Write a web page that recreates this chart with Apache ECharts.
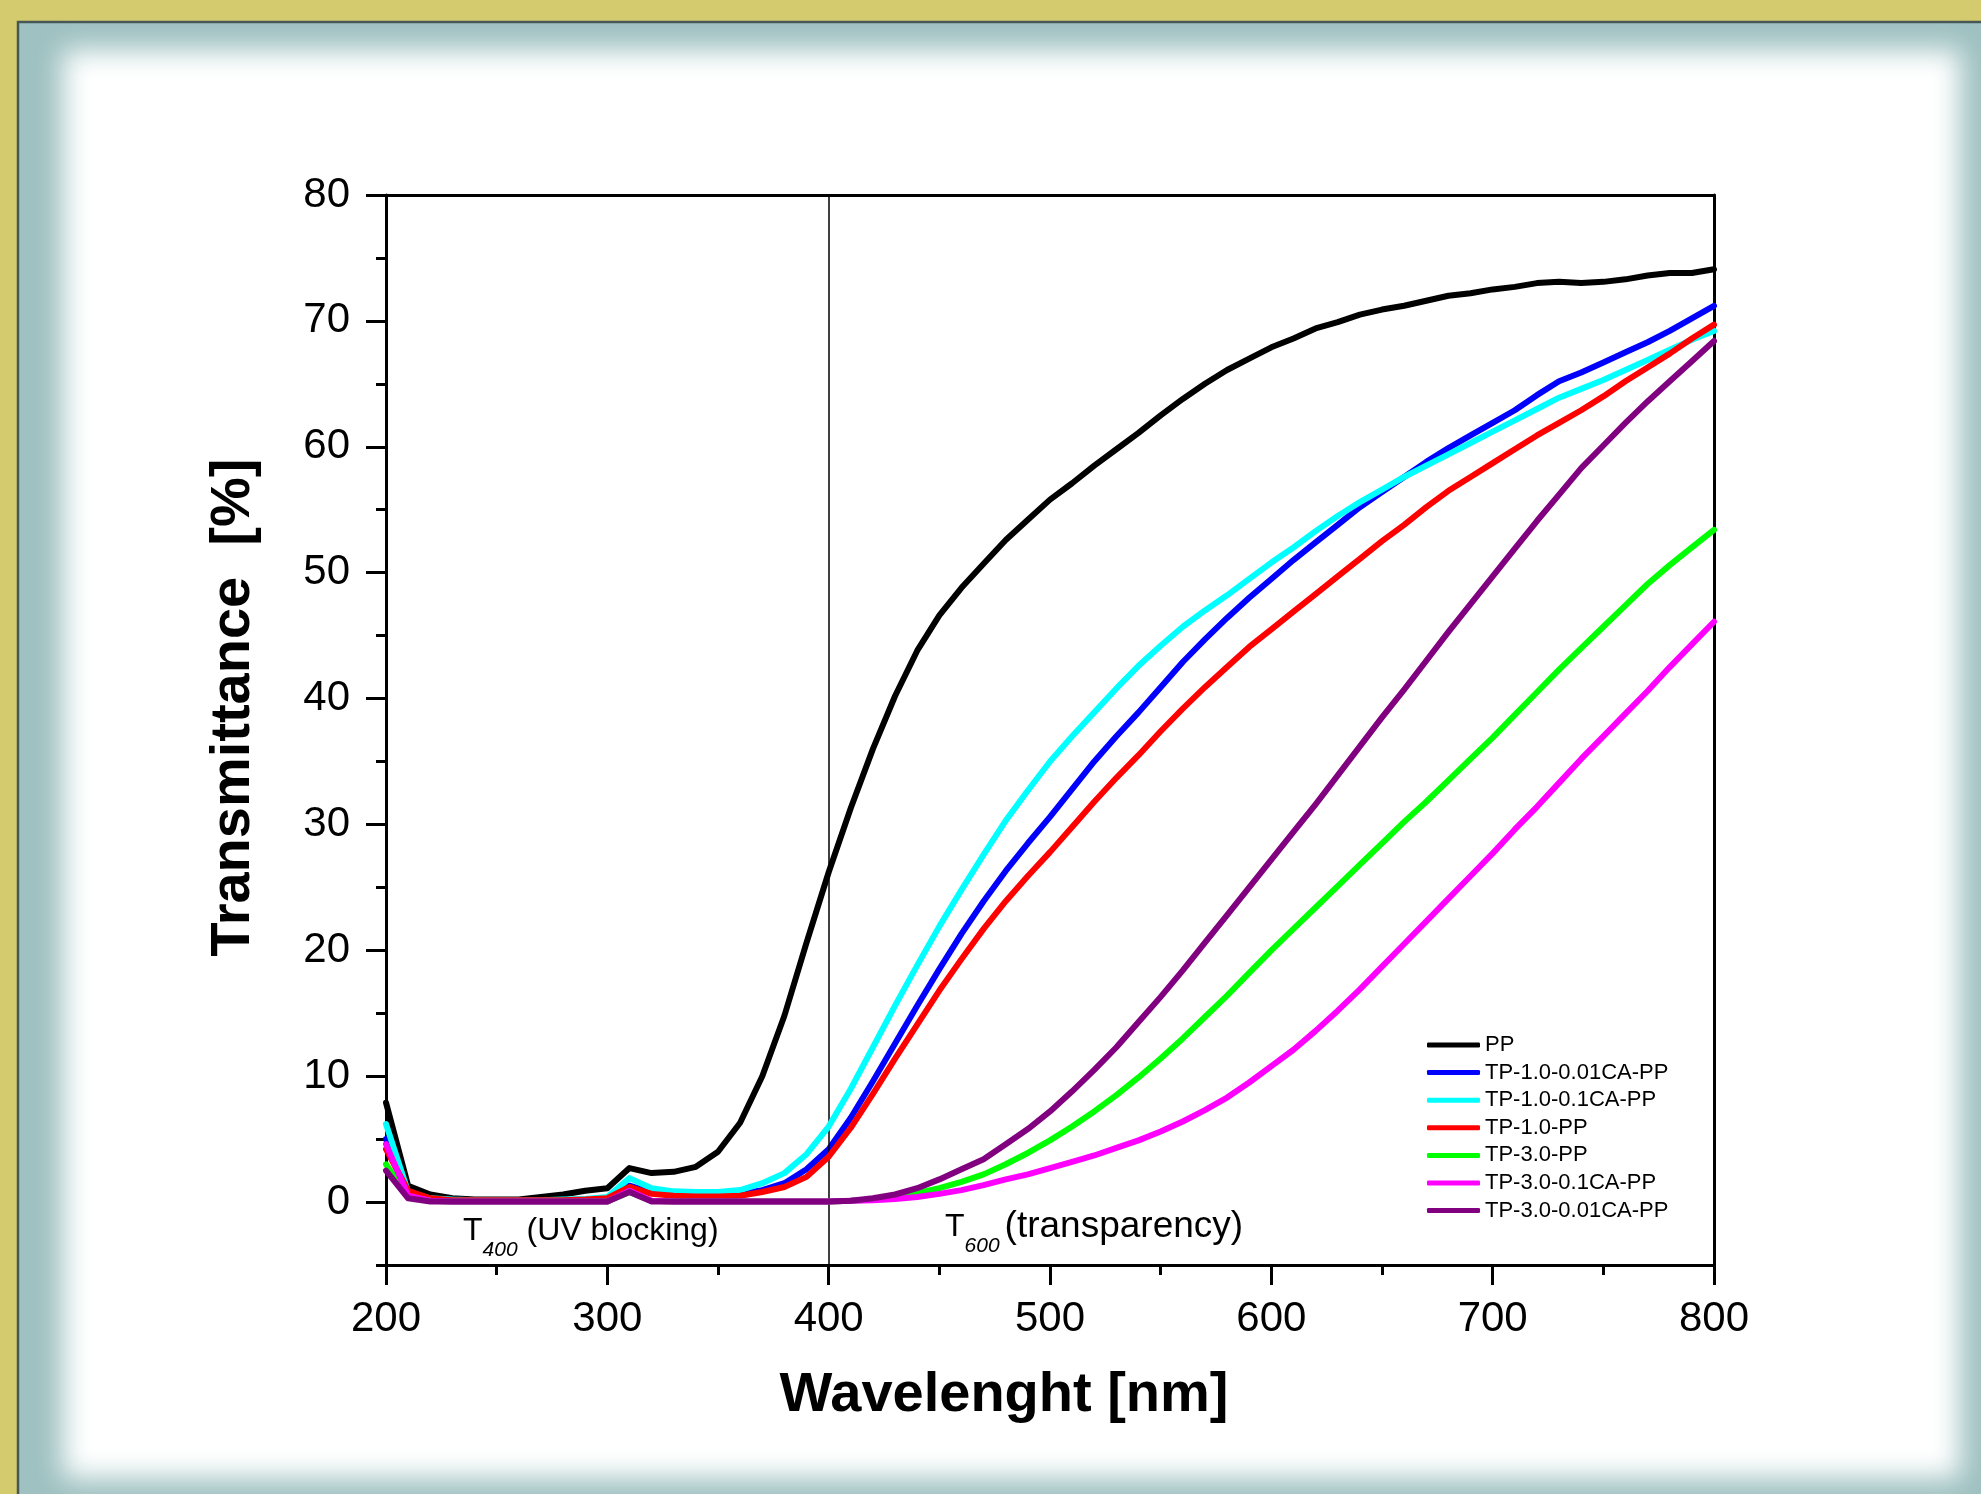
<!DOCTYPE html>
<html>
<head>
<meta charset="utf-8">
<script src="https://cdn.jsdelivr.net/npm/echarts@6/dist/echarts.min.js"></script>
<style>
html,body{margin:0;padding:0;background:#d3cb6d;overflow:hidden;}
#c{width:1981px;height:1494px;}
</style>
</head>
<body>
<div id="c"></div>
<script>
// ---------------- DATA ----------------
const wavelengths = [200,210,220,230,240,250,260,270,280,290,
  300,310,320,330,340,350,360,370,380,390,
  400,410,420,430,440,450,460,470,480,490,
  500,510,520,530,540,550,560,570,580,590,
  600,610,620,630,640,650,660,670,680,690,
  700,710,720,730,740,750,760,770,780,790,800];

const seriesNames = ['PP','TP-1.0-0.01CA-PP','TP-1.0-0.1CA-PP','TP-1.0-PP','TP-3.0-PP','TP-3.0-0.1CA-PP','TP-3.0-0.01CA-PP'];
const seriesColors = ['#000000','#0000ff','#00ffff','#ff0000','#00ff00','#ff00ff','#800080'];

const PP = [7.9,1.3,0.6,0.3,0.2,0.2,0.2,0.4,0.6,0.9,
  1.1,2.7,2.3,2.4,2.8,4.0,6.3,10.0,14.8,20.6,
  26.2,31.3,36.0,40.2,43.8,46.6,48.8,50.7,52.6,54.2,
  55.8,57.1,58.5,59.8,61.1,62.5,63.8,65.0,66.1,67.0,
  67.9,68.6,69.4,69.9,70.5,70.9,71.2,71.6,72.0,72.2,
  72.5,72.7,73.0,73.1,73.0,73.1,73.3,73.6,73.8,73.8,74.1];

const TP10_001CA = [5.0,0.7,0.25,0.15,0.15,0.15,0.15,0.15,0.15,0.2,
  0.3,1.3,0.75,0.6,0.55,0.55,0.65,0.95,1.5,2.6,
  4.2,6.7,9.6,12.6,15.6,18.5,21.3,23.9,26.3,28.5,
  30.6,32.8,35.0,37.0,38.9,40.9,42.9,44.7,46.4,48.0,
  49.5,51.0,52.4,53.8,55.2,56.4,57.6,58.8,59.9,60.9,
  61.9,62.9,64.1,65.2,65.9,66.7,67.5,68.3,69.2,70.2,71.2];

const TP10_01CA = [6.2,0.8,0.3,0.2,0.15,0.15,0.15,0.15,0.2,0.25,
  0.4,1.9,1.1,0.85,0.8,0.8,0.95,1.5,2.3,3.8,
  6.0,9.0,12.3,15.6,18.8,21.9,24.8,27.6,30.3,32.7,
  35.0,37.0,38.9,40.8,42.6,44.2,45.7,47.0,48.2,49.5,
  50.8,52.0,53.3,54.5,55.6,56.6,57.6,58.5,59.4,60.3,
  61.2,62.1,63.0,63.9,64.6,65.3,66.1,66.9,67.7,68.5,69.2];

const TP10 = [4.2,0.9,0.3,0.15,0.15,0.15,0.15,0.15,0.15,0.2,
  0.3,1.2,0.65,0.5,0.45,0.45,0.5,0.8,1.2,2.0,
  3.6,5.9,8.6,11.4,14.1,16.8,19.3,21.7,23.9,25.9,
  27.8,29.8,31.8,33.7,35.5,37.4,39.2,40.9,42.5,44.1,
  45.5,46.9,48.3,49.7,51.1,52.5,53.8,55.2,56.5,57.6,
  58.7,59.8,60.9,61.9,62.9,64.0,65.2,66.3,67.4,68.6,69.7];

const TP30 = [3.0,0.4,0.1,0.05,0.05,0.05,0.05,0.05,0.05,0.05,
  0.05,0.8,0.1,0.05,0.05,0.05,0.05,0.05,0.05,0.05,
  0.05,0.1,0.2,0.4,0.7,1.1,1.6,2.2,3.0,3.9,
  4.9,6.0,7.2,8.5,9.9,11.4,13.0,14.7,16.4,18.2,
  20.0,21.7,23.4,25.1,26.8,28.5,30.2,31.8,33.5,35.2,
  36.9,38.7,40.5,42.3,44.0,45.7,47.4,49.1,50.6,52.0,53.4];

const TP30_01CA = [4.6,0.5,0.1,0.05,0.05,0.05,0.05,0.05,0.05,0.05,
  0.05,0.9,0.1,0.05,0.05,0.05,0.05,0.05,0.05,0.05,
  0.05,0.1,0.15,0.25,0.4,0.65,0.95,1.35,1.8,2.2,
  2.7,3.2,3.7,4.3,4.9,5.6,6.4,7.3,8.3,9.5,
  10.8,12.1,13.6,15.2,16.9,18.7,20.5,22.3,24.1,25.9,
  27.7,29.6,31.4,33.3,35.2,37.0,38.8,40.6,42.5,44.3,46.1];

const TP30_001CA = [2.5,0.3,0.05,0.05,0.05,0.05,0.05,0.05,0.05,0.05,
  0.05,0.8,0.05,0.05,0.05,0.05,0.05,0.05,0.05,0.05,
  0.05,0.1,0.3,0.6,1.1,1.8,2.6,3.4,4.6,5.8,
  7.2,8.8,10.5,12.3,14.3,16.3,18.4,20.6,22.8,25.0,
  27.2,29.4,31.6,33.9,36.2,38.5,40.7,43.0,45.3,47.5,
  49.7,51.9,54.1,56.2,58.3,60.1,61.9,63.6,65.2,66.8,68.4];

const seriesValues = [PP, TP10_001CA, TP10_01CA, TP10, TP30, TP30_01CA, TP30_001CA];

const yTickLabels = [0,10,20,30,40,50,60,70,80];
const xTickLabels = [200,300,400,500,600,700,800];
const markerWavelength = 400;

// ---------------- CHART ----------------
const FONT = '"Liberation Sans", Arial, Helvetica, sans-serif';
const chart = echarts.init(document.getElementById('c'), null, {renderer:'canvas', width:1981, height:1494});
const axisLineStyle = {color:'#000', width:3};

const series = seriesNames.map((name, i) => {
  const s = {
    name: name,
    type: 'line',
    xAxisIndex: 0,
    yAxisIndex: 0,
    data: wavelengths.map((w, j) => [w, seriesValues[i][j]]),
    symbol: 'none',
    showSymbol: false,
    smooth: false,
    lineStyle: {color: seriesColors[i], width: 6, join: 'round', cap: 'round'},
    itemStyle: {color: seriesColors[i]},
    emphasis: {disabled: true},
    z: 3 + i
  };
  if (i === 0) {
    s.markLine = {
      silent: true,
      symbol: ['none','none'],
      label: {show: false},
      lineStyle: {color:'#000', width:1.5, type:'solid'},
      emphasis: {disabled: true},
      data: [{xAxis: markerWavelength}]
    };
  }
  return s;
});

const option = {
  backgroundColor: '#d3cb6d',
  animation: false,
  grid: {left:386, top:195, width:1328, height:1070, containLabel:false},
  xAxis: [
    {
      type:'value', position:'bottom', min:200, max:800, interval:100,
      axisLine:{show:true, onZero:false, lineStyle:axisLineStyle},
      axisTick:{show:true, length:20, lineStyle:axisLineStyle},
      minorTick:{show:true, splitNumber:2, length:10, lineStyle:axisLineStyle},
      splitLine:{show:false}, minorSplitLine:{show:false},
      axisLabel:{fontSize:42, color:'#000', fontFamily:FONT, margin:33,
        formatter: v => (xTickLabels.indexOf(v) >= 0 ? String(v) : '')},
      name:'Wavelenght [nm]', nameLocation:'middle', nameGap:103,
      nameTextStyle:{fontSize:56, fontWeight:'bold', color:'#000', fontFamily:FONT, padding:[0,92,0,0]}
    },
    {
      type:'value', position:'top', min:200, max:800, interval:100,
      axisLine:{show:true, onZero:false, lineStyle:axisLineStyle},
      axisTick:{show:false}, axisLabel:{show:false}, splitLine:{show:false}
    }
  ],
  yAxis: [
    {
      type:'value', position:'left', min:-5, max:80, interval:5,
      axisLine:{show:true, onZero:false, lineStyle:axisLineStyle},
      axisTick:{show:true, length:10, lineStyle:axisLineStyle},
      axisLabel:{fontSize:42, color:'#000', fontFamily:FONT, margin:36,
        formatter: v => (yTickLabels.indexOf(v) >= 0 ? String(v) : '')},
      splitLine:{show:false},
      name:'Transmittance  [%]', nameLocation:'middle', nameGap:124, nameRotate:90,
      nameTextStyle:{fontSize:56, fontWeight:'bold', color:'#000', fontFamily:FONT, padding:[0,0,0,45]}
    },
    {
      type:'value', position:'left', min:-5, max:80, interval:5,
      axisLine:{show:false},
      axisTick:{show:true, length:20, lineStyle:axisLineStyle, customValues: yTickLabels},
      axisLabel:{show:false}, splitLine:{show:false}
    },
    {
      type:'value', position:'right', min:-5, max:80, interval:5,
      axisLine:{show:true, onZero:false, lineStyle:axisLineStyle},
      axisTick:{show:false}, axisLabel:{show:false}, splitLine:{show:false}
    }
  ],
  legend: {
    orient:'vertical', left:1427, top:1034, padding:0,
    icon:'roundRect',
    itemWidth:53, itemHeight:5, itemGap:5.6,
    selectedMode:false,
    textStyle:{fontSize:22, color:'#000', fontFamily:FONT, lineHeight:22},
    data: seriesNames
  },
  graphic: [
    {type:'rect', z:-10, silent:true, shape:{x:18, y:22, width:2100, height:1600},
      style:{fill:'#9fc1c1', stroke:'#475757', lineWidth:2.5}},
    {type:'rect', z:-9, silent:true, shape:{x:63 + 10000, y:50, width:1897, height:1428},
      style:{fill:'#ffffff', shadowColor:'#ffffff', shadowBlur:26, shadowOffsetX:-10000}},
    {type:'text', z:5, silent:true, x:428, y:-34.5,
      style:{text:'Transmittance', font:'66px "Open Sans", sans-serif', fill:'#000', align:'right', verticalAlign:'middle'}},
    {type:'text', z:5, silent:true, x:428, y:-34.5,
      style:{text:', strongly high rating', font:'66px "Open Sans", sans-serif', fill:'#000', align:'left', verticalAlign:'middle'}},
    {type:'text', z:20, silent:true, x:463, y:1201.5,
      style:{text:'{a|T}{s|400}{a| (UV blocking)}', verticalAlign:'top', align:'left',
        rich:{a:{fontSize:32, fontFamily:FONT, lineHeight:59, fill:'#000'},
              s:{fontSize:21, fontFamily:FONT, fontStyle:'italic', lineHeight:21, verticalAlign:'bottom', fill:'#000'}}}},
    {type:'text', z:20, silent:true, x:945, y:1197.5,
      style:{text:'{a|T}{s|600}{b|(transparency)}', verticalAlign:'top', align:'left',
        rich:{a:{fontSize:32, fontFamily:FONT, lineHeight:59, fill:'#000'},
              b:{fontSize:37, fontFamily:FONT, lineHeight:59, fill:'#000', padding:[0,0,0,5]},
              s:{fontSize:21, fontFamily:FONT, fontStyle:'italic', lineHeight:21, verticalAlign:'bottom', fill:'#000'}}}}
  ],
  series: series
};
chart.setOption(option);
</script>
</body>
</html>
